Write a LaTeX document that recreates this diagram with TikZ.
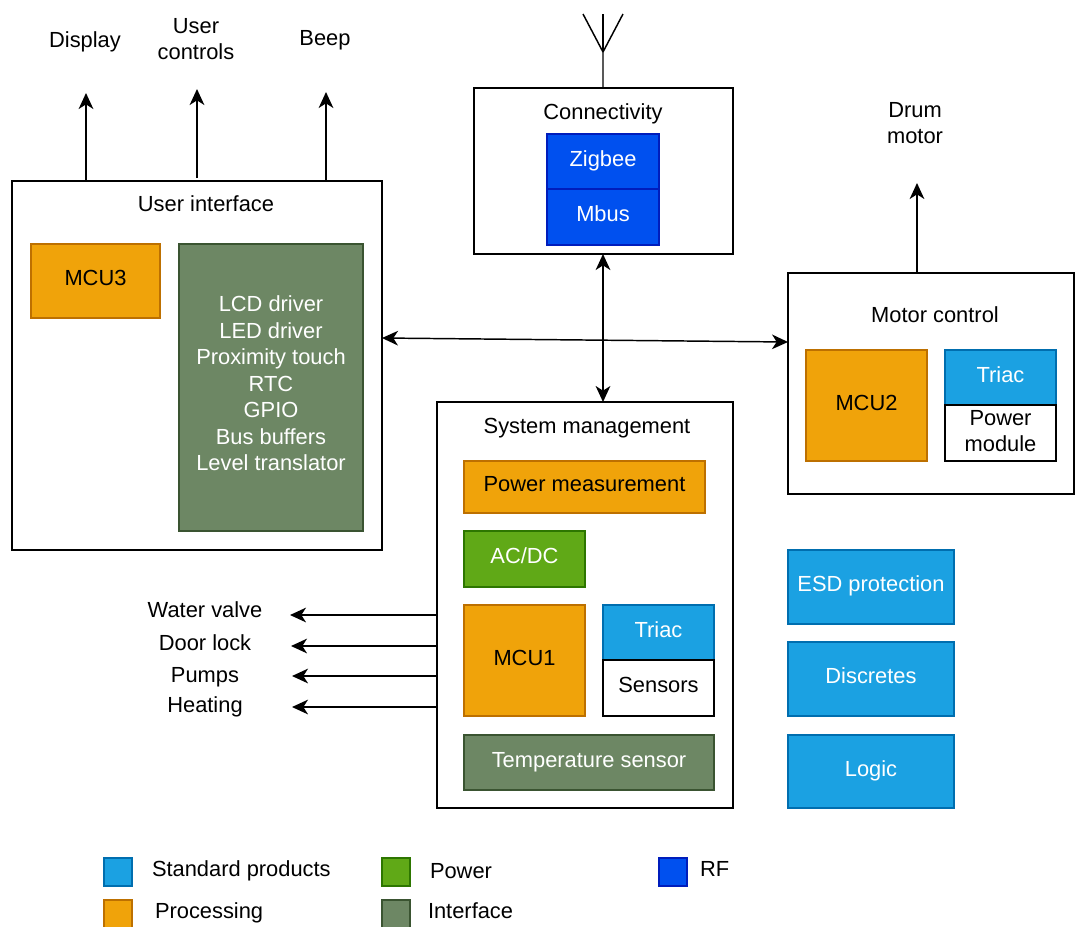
\documentclass[tikz,border=0pt]{standalone}
\usepackage{fontspec}
\setmainfont{Liberation Sans}
\usetikzlibrary{arrows.meta,calc}
\definecolor{procF}{HTML}{F0A30A}\definecolor{procD}{HTML}{BD7000}
\definecolor{stdF}{HTML}{1BA1E2}\definecolor{stdD}{HTML}{006EAF}
\definecolor{powF}{HTML}{60A917}\definecolor{powD}{HTML}{2D7600}
\definecolor{intF}{HTML}{6D8764}\definecolor{intD}{HTML}{3A5431}
\definecolor{rfF}{HTML}{0050EF}\definecolor{rfD}{HTML}{001DBC}
\newcommand\blk[7]{\node[#6, minimum width={(#4-#2)*0.75pt}, minimum height={(#5-#3)*0.75pt}] (#1) at ({(#2+#4)/2},{(#3+#5)/2}) {#7};}
\tikzset{
  every node/.style={font=\fontsize{16.4}{19.9}\selectfont, inner sep=0pt, outer sep=0pt},
  one/.style={text height=0.9em, text depth=0.2em},
  onel/.style={text height=1.1em, text depth=0.1em},
  container/.style={draw=black, line width=1.3pt, fill=white},
  proc/.style={draw=procD, fill=procF, line width=0.9pt, text=black},
  std/.style={draw=stdD, fill=stdF, line width=0.9pt, text=white},
  pow/.style={draw=powD, fill=powF, line width=0.9pt, text=white},
  intf/.style={draw=intD, fill=intF, line width=0.9pt, text=white, align=center},
  rf/.style={draw=rfD, fill=rfF, line width=0.9pt, text=white},
  plain/.style={draw=black, fill=white, line width=1.1pt, text=black, align=center},
  lbl/.style={align=center, text=black},
  arr/.style={-{Stealth[length=12pt,width=11pt,inset=3.5pt]}, line width=1.1pt},
  darr/.style={{Stealth[length=12pt,width=11pt,inset=3.5pt]}-{Stealth[length=12pt,width=11pt,inset=3.5pt]}, line width=1.1pt},
}
\begin{document}
\begin{tikzpicture}[x=0.75pt,y=-0.75pt]
\useasboundingbox (0,0) rectangle (1075,926);
% User interface
\blk{ui}{12}{181}{382}{550}{container}{}
\node[lbl,onel] (uiT) at (206,205) {User interface};
\blk{mcu3}{31}{244}{160}{318}{proc,one}{MCU3}
\blk{ifc}{179}{244}{363}{531}{intf}{}
\node[text=white, align=center] (ifcT) at ([yshift=3pt]ifc.center) {LCD driver\\LED driver\\Proximity touch\\RTC\\GPIO\\Bus buffers\\Level translator};
% outputs of UI
\node[lbl,onel] (disp) at (85,41) {Display};
\node[lbl] (uctl) at (196,39) {User\\controls};
\node[lbl,onel] (beep) at (325,39) {Beep};
\coordinate (dispTip) at (86,93);
\coordinate (uctlTip) at (197,89);
\coordinate (beepTip) at (326,92);
\draw[arr] (dispTip |- ui.north) -- (dispTip);
\draw[arr] ([yshift=2.2pt]uctlTip |- ui.north) -- (uctlTip);
\draw[arr] (beepTip |- ui.north) -- (beepTip);
% Connectivity
\blk{conn}{474}{88}{733}{254}{container}{}
\node[lbl,onel] (connT) at (603,113) {Connectivity};
\blk{zig}{547}{134}{659}{189}{rf,one}{Zigbee}
\blk{mbus}{547}{189}{659}{245}{rf,one}{Mbus}
% antenna
\coordinate (antBase) at (603,52);
\coordinate (antL) at (583,14);
\coordinate (antM) at (603,14);
\coordinate (antR) at (623,14);
\draw[line width=1.1pt] (antBase |- conn.north) -- (antBase) -- (antL);
\draw[line width=1.1pt] (antBase) -- (antM);
\draw[line width=1.1pt] (antBase) -- (antR);
% Motor control
\blk{mc}{788}{273}{1074}{494}{container}{}
\node[lbl,onel] (mcT) at (935,316) {Motor control};
\blk{mcu2}{806}{350}{927}{461}{proc,one}{MCU2}
\blk{triac2}{945}{350}{1056}{405}{std,one}{Triac}
\blk{pmod}{945}{405}{1056}{461}{plain}{}
\node[lbl] (pmodT) at ([yshift=1.5pt]pmod.center) {Power\\module};
\node[lbl] (drum) at (915,123) {Drum\\motor};
\coordinate (drumTip) at (917,183);
\draw[arr] (drumTip |- mc.north) -- (drumTip);
% System management
\blk{sys}{437}{402}{733}{808}{container}{}
\node[lbl,onel] (sysT) at (587,427) {System management};
\blk{pm}{464}{461}{705}{513}{proc,one}{Power measurement}
\blk{acdc}{464}{531}{585}{587}{pow,one}{AC/DC}
\blk{mcu1}{464}{605}{585}{716}{proc,one}{MCU1}
\blk{triac1}{603}{605}{714}{660}{std,one}{Triac}
\blk{sens}{603}{660}{714}{716}{plain,one}{Sensors}
\blk{temp}{464}{735}{714}{790}{intf,one}{Temperature sensor}
% left outputs
\node[lbl,onel] (wv) at (205,611) {Water valve};
\node[lbl,onel] (dl) at (205,644) {Door lock};
\node[lbl,onel] (pu) at (205,676) {Pumps};
\node[lbl,onel] (he) at (205,706) {Heating};
\coordinate (wvTip) at (290,615);
\coordinate (dlTip) at (291,646);
\coordinate (puTip) at (292,676);
\coordinate (heTip) at (292,707);
\draw[arr] (wvTip -| sys.west) -- (wvTip);
\draw[arr] (dlTip -| sys.west) -- (dlTip);
\draw[arr] (puTip -| sys.west) -- (puTip);
\draw[arr] (heTip -| sys.west) -- (heTip);
% interconnections
\coordinate (hL) at (0,338);
\coordinate (hR) at (0,342);
\draw[darr] (ui.east |- hL) -- (mc.west |- hR);
\draw[darr] (mbus.south |- conn.south) -- (mbus.south |- sys.north);
% right column
\blk{esd}{788}{550}{954}{624}{std,one}{ESD protection}
\blk{disc}{788}{642}{954}{716}{std,one}{Discretes}
\blk{logic}{788}{735}{954}{808}{std,one}{Logic}
% legend
\blk{lgStd}{104}{858}{132}{886}{std}{}
\blk{lgProc}{104}{900}{132}{928}{proc}{}
\blk{lgPow}{382}{858}{410}{886}{pow}{}
\blk{lgInt}{382}{900}{410}{928}{intf}{}
\blk{lgRf}{659}{858}{687}{886}{rf}{}
\node[lbl,onel,anchor=west] (lgStdT) at (152,870) {Standard products};
\node[lbl,onel,anchor=west] (lgProcT) at (155,912) {Processing};
\node[lbl,onel,anchor=west] (lgPowT) at (430,872) {Power};
\node[lbl,onel,anchor=west] (lgIntT) at (428,912) {Interface};
\node[lbl,onel,anchor=west] (lgRfT) at (700,870) {RF};
\end{tikzpicture}
\end{document}
